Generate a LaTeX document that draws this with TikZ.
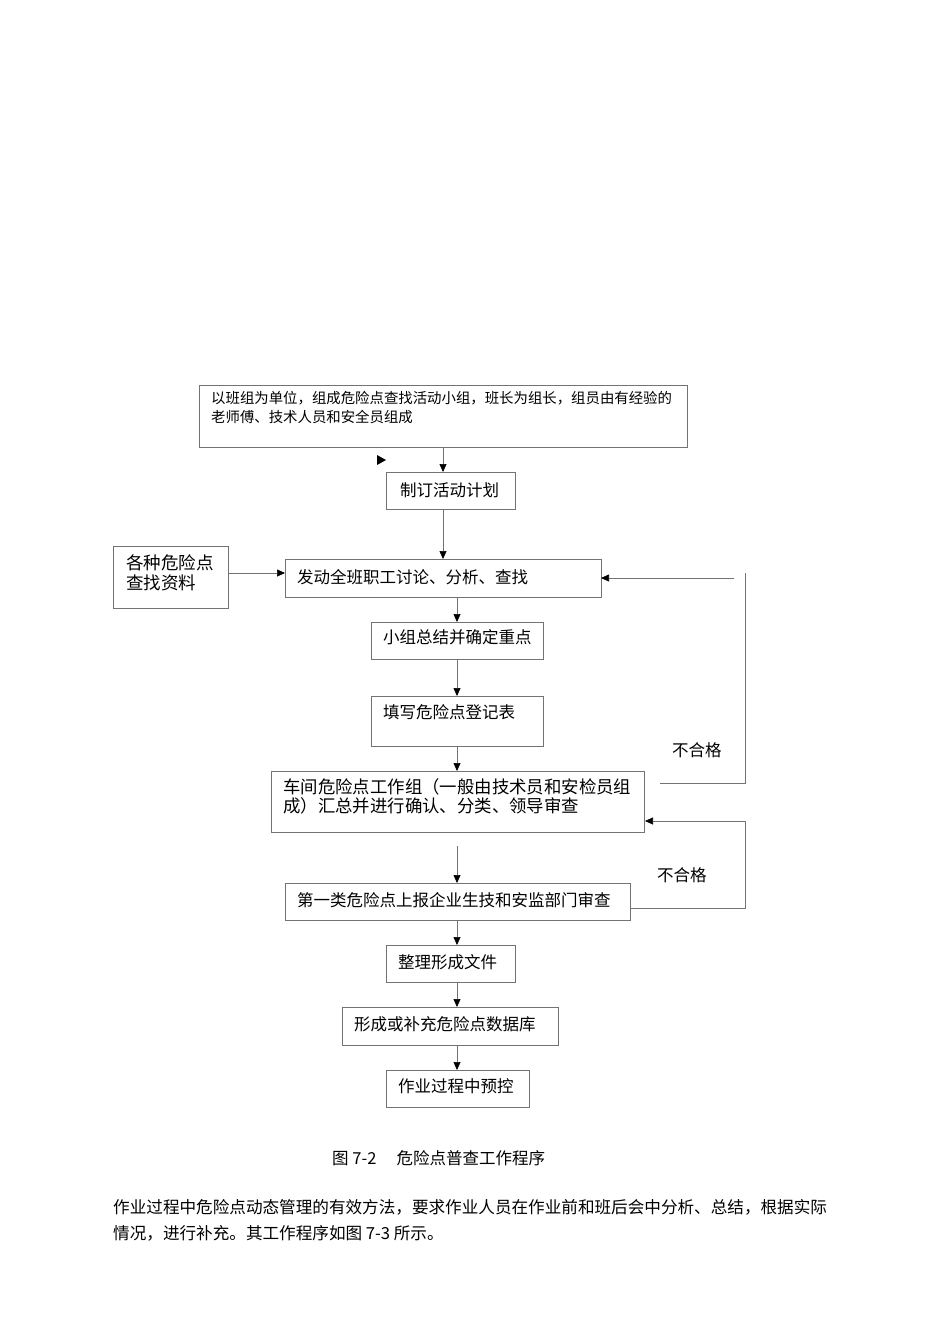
\documentclass[tikz,border=0pt]{standalone}
\usepackage{fontspec}
\setmainfont{Liberation Serif}
\newfontfamily\cjk{Noto Sans CJK SC}
\usetikzlibrary{arrows.meta}
\tikzset{
  box/.style={draw=black!55, line width=0.6pt},
  txt/.style={anchor=west, inner sep=0pt, font=\cjk\fontsize{16.5}{19}\selectfont},
  link/.style={draw=black!55, line width=0.6pt, -{Triangle[length=8pt,width=7pt,color=black]}},
  back/.style={draw=black!55, line width=0.6pt},
}
\begin{document}
\begin{tikzpicture}[x=1pt,y=-1pt]
\useasboundingbox (0,0) rectangle (950,1344);
% boxes
\draw[box] (199,385) rectangle (687,447);
\node[txt, anchor=north west, font=\cjk\fontsize{14.4}{19}\selectfont, align=left] (t1) at (211,391) {以班组为单位，组成危险点查找活动小组，班长为组长，组员由有经验的\\老师傅、技术人员和安全员组成};
\draw[box] (386,472) rectangle (515,509);
\node[txt] (t2) at (400,490) {制订活动计划};
\draw[box] (113,546) rectangle (228,608);
\node[txt, anchor=north west, align=left, font=\cjk\fontsize{17.5}{20}\selectfont] (t3) at (126,554) {各种危险点\\查找资料};
\draw[box] (285,559) rectangle (601,597);
\node[txt] (t4) at (297,577) {发动全班职工讨论、分析、查找};
\draw[box] (371,622) rectangle (543,659);
\node[txt] (t5) at (383,637) {小组总结并确定重点};
\draw[box] (371,696) rectangle (543,746);
\node[txt] (t6) at (383,712) {填写危险点登记表};
\draw[box] (271,771) rectangle (644,832);
\node[txt, anchor=north west, align=left, font=\cjk\fontsize{17.4}{19}\selectfont] (t7) at (283,778) {车间危险点工作组（一般由技术员和安检员组\\成）汇总并进行确认、分类、领导审查};
\draw[box] (285,883) rectangle (630,920);
\node[txt] (t8) at (297,900) {第一类危险点上报企业生技和安监部门审查};
\draw[box] (386,945) rectangle (515,982);
\node[txt] (t9) at (398,962) {整理形成文件};
\draw[box] (342,1007) rectangle (558,1045);
\node[txt] (t10) at (354,1024) {形成或补充危险点数据库};
\draw[box] (386,1070) rectangle (529,1107);
\node[txt] (t11) at (398,1086) {作业过程中预控};
% connectors
\coordinate (a1) at (443,447); \coordinate (a2) at (443,472);
\coordinate (a3) at (443,509); \coordinate (a4) at (443,559);
\coordinate (s1) at (228,573); \coordinate (s2) at (285,573);
\draw[link] (a1) -- (a2);
\draw[link] (a3) -- (a4);
\draw[link] (s1) -- (s2);
\fill (377,455) -- (386,460) -- (377,465) -- cycle;
\foreach \ya/\yb in {597/622, 659/696, 746/771, 846/883, 920/945, 982/1007, 1045/1070}
  \draw[link] (457,\ya) coordinate (p) -- (457,\yb) coordinate (q);
% feedback
\coordinate (f1) at (660,783); \coordinate (f2) at (745,783);
\coordinate (f3) at (745,573); \coordinate (f4) at (734,578);
\coordinate (f5) at (601,578);
\draw[back] (f1) -- (f2) -- (f3);
\draw[link] (f4) -- (f5);
\coordinate (g1) at (630,908); \coordinate (g2) at (745,908);
\coordinate (g3) at (745,821); \coordinate (g4) at (645,821);
\draw[link] (g1) -- (g2) -- (g3) -- (g4);
\node[txt] (n1) at (672,750) {不合格};
\node[txt] (n2) at (657,875) {不合格};
% caption and text
\node[txt] (cap) at (332,1158) {图 7-2\quad\ 危险点普查工作程序};
\node[txt, anchor=north west, align=left, font=\cjk\fontsize{16.6}{26}\selectfont] (para) at (113,1199)
 {作业过程中危险点动态管理的有效方法，要求作业人员在作业前和班后会中分析、总结，根据实际\\情况，进行补充。其工作程序如图 7-3 所示。};
\end{tikzpicture}
\end{document}
